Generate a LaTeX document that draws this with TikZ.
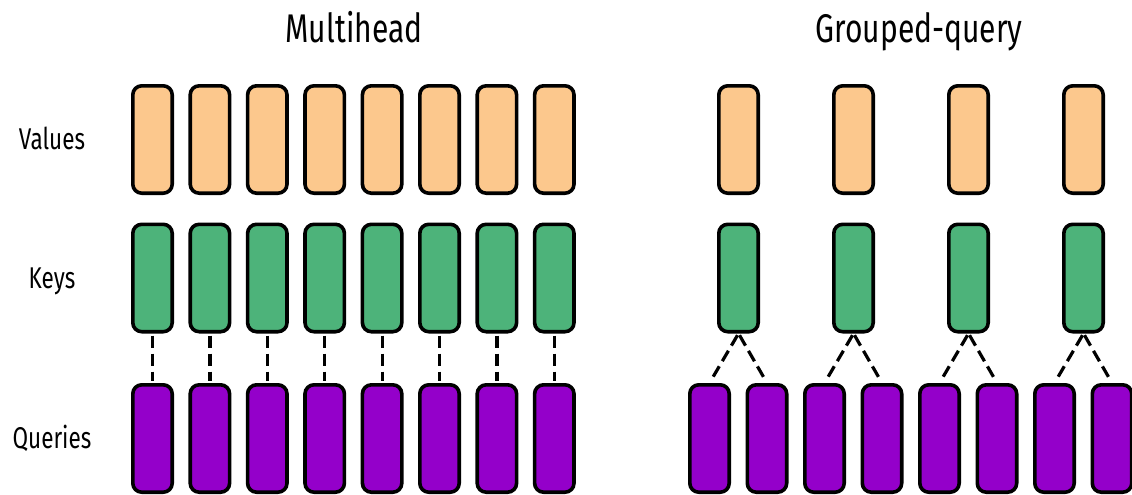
\documentclass[tikz,border=0pt]{standalone}
\usepackage{fontspec}
\setmainfont{Fira Sans}[FakeStretch=0.75]
\definecolor{valfill}{RGB}{252,200,141}
\definecolor{keyfill}{RGB}{77,179,122}
\definecolor{qryfill}{RGB}{148,0,202}
\begin{document}
\begin{tikzpicture}[x=1pt,y=-1pt,
  head/.style={draw=black, line width=3.6pt, rounded corners=9pt,
    minimum width=39.4pt, minimum height=107.4pt, inner sep=0pt},
  value/.style={head, fill=valfill},
  key/.style={head, fill=keyfill},
  query/.style={head, fill=qryfill},
  link/.style={line width=3.2pt, dash pattern=on 12pt off 6pt,
    shorten <=2pt, shorten >=2pt},
  rowlabel/.style={font=\fontsize{30}{36}\selectfont, anchor=base},
  title/.style={font=\fontsize{40}{48}\selectfont, anchor=base}]
\useasboundingbox (0,0) rectangle (1132,495);

% Multihead: one key and one value per query head
\foreach \i in {0,...,7} {
  \pgfmathsetmacro\xx{152.5+57.4*\i}
  \node[value] (mv\i) at (\xx,139.5) {};
  \node[key] (mk\i) at (\xx,278) {};
  \node[query] (mq\i) at (\xx,438.5) {};
  \draw[link] (mk\i.south) -- (mq\i.north);
}

% Grouped-query: each key/value head shared by two query heads
\foreach \i in {0,...,3} {
  \pgfmathsetmacro\xx{738.5+115*\i}
  \node[value] (gv\i) at (\xx,139.5) {};
  \node[key] (gk\i) at (\xx,278) {};
  \node[query] (gqa\i) at (\xx-29,438.5) {};
  \node[query] (gqb\i) at (\xx+28.5,438.5) {};
  \draw[link] (gk\i.south) -- (gqa\i.north);
  \draw[link] (gk\i.south) -- (gqb\i.north);
}

% Row labels and titles
\node[rowlabel] (lv) at (52,149) {Values};
\node[rowlabel] (lk) at (52,288) {Keys};
\node[rowlabel] (lq) at (52,448) {Queries};
\node[title] (tm) at (354,43) {Multihead};
\node[title] (tg) at (919,43) {Grouped-query};
\end{tikzpicture}
\end{document}
